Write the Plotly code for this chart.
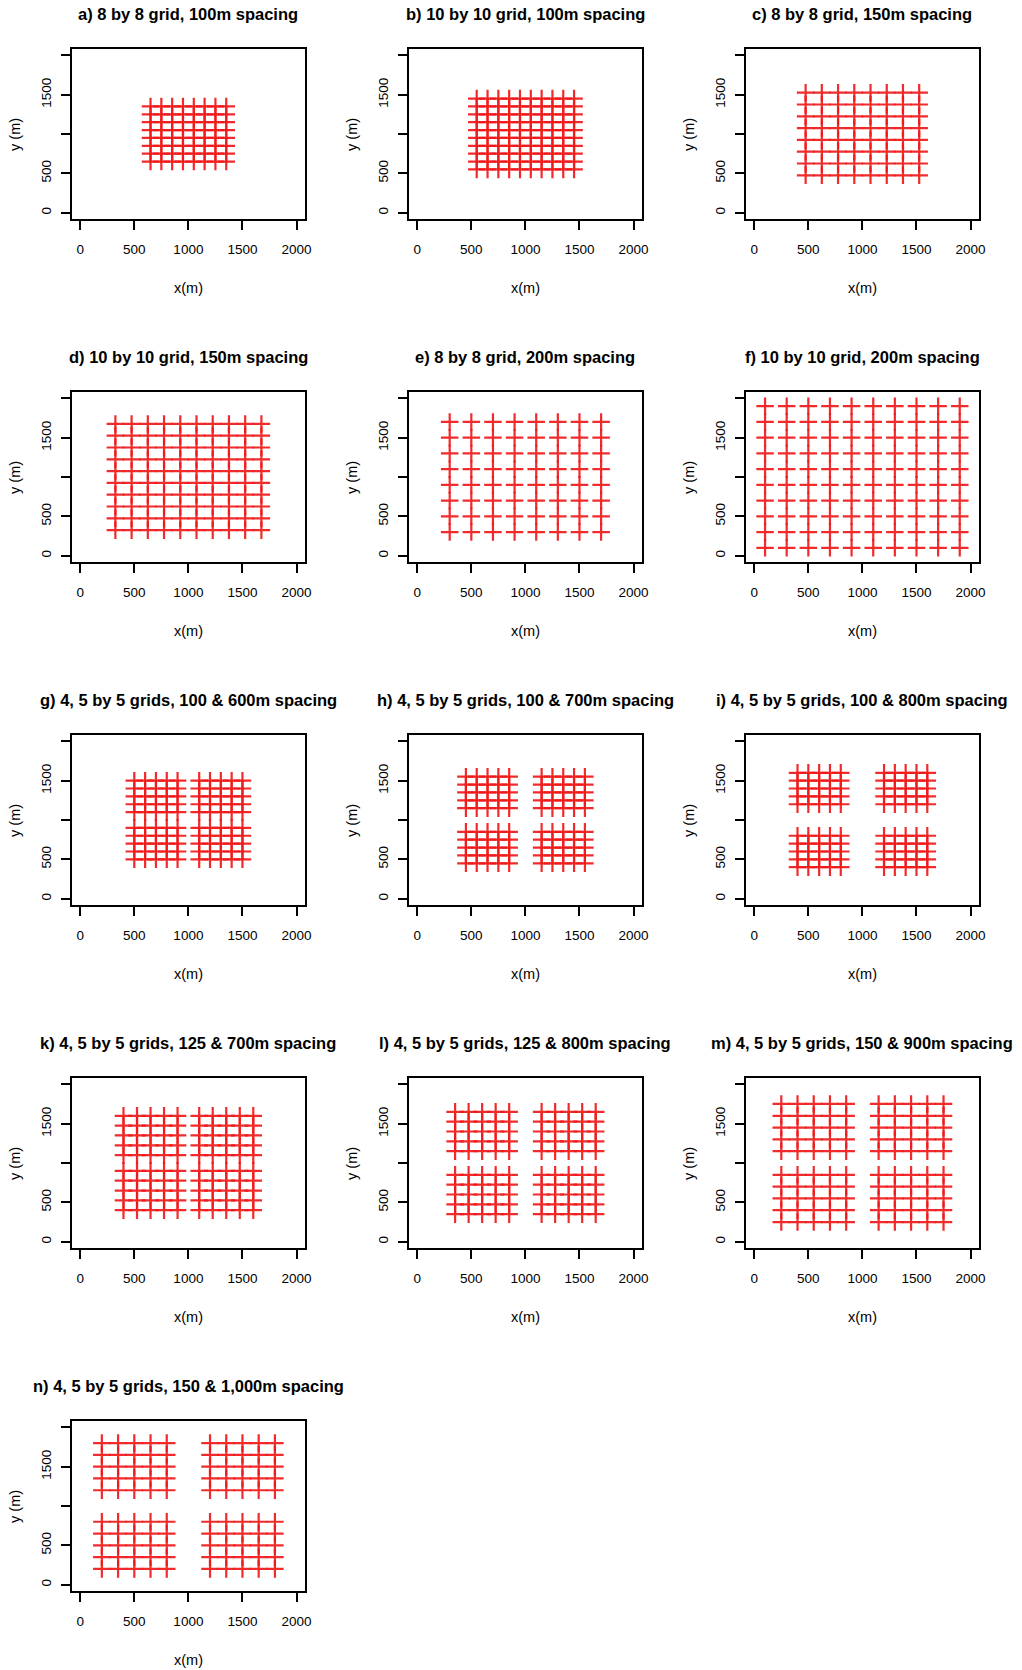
import plotly.graph_objects as go

# ---------------- data ----------------
PANEL_IDS = ["a", "b", "c", "d", "e", "f", "g", "h", "i", "k", "l", "m", "n"]

TITLES = [
    "a) 8 by 8 grid, 100m spacing",
    "b) 10 by 10 grid, 100m spacing",
    "c) 8 by 8 grid, 150m spacing",
    "d) 10 by 10 grid, 150m spacing",
    "e) 8 by 8 grid, 200m spacing",
    "f) 10 by 10 grid, 200m spacing",
    "g) 4, 5 by 5 grids, 100 & 600m spacing",
    "h) 4, 5 by 5 grids, 100 & 700m spacing",
    "i) 4, 5 by 5 grids, 100 & 800m spacing",
    "k) 4, 5 by 5 grids, 125 & 700m spacing",
    "l) 4, 5 by 5 grids, 125 & 800m spacing",
    "m) 4, 5 by 5 grids, 150 & 900m spacing",
    "n) 4, 5 by 5 grids, 150 & 1,000m spacing",
]

# grid line positions (m); each panel's points are all (x, y) combinations
A_POS = [650, 750, 850, 950, 1050, 1150, 1250, 1350]
B_POS = [550, 650, 750, 850, 950, 1050, 1150, 1250, 1350, 1450]
C_POS = [475, 625, 775, 925, 1075, 1225, 1375, 1525]
D_POS = [325, 475, 625, 775, 925, 1075, 1225, 1375, 1525, 1675]
E_POS = [300, 500, 700, 900, 1100, 1300, 1500, 1700]
F_POS = [100, 300, 500, 700, 900, 1100, 1300, 1500, 1700, 1900]
G_POS = [500, 600, 700, 800, 900, 1100, 1200, 1300, 1400, 1500]
H_POS = [450, 550, 650, 750, 850, 1150, 1250, 1350, 1450, 1550]
I_POS = [400, 500, 600, 700, 800, 1200, 1300, 1400, 1500, 1600]
K_POS = [400, 525, 650, 775, 900, 1100, 1225, 1350, 1475, 1600]
L_POS = [350, 475, 600, 725, 850, 1150, 1275, 1400, 1525, 1650]
M_POS = [250, 400, 550, 700, 850, 1150, 1300, 1450, 1600, 1750]
N_POS = [200, 350, 500, 650, 800, 1200, 1350, 1500, 1650, 1800]

PANEL_X = [A_POS, B_POS, C_POS, D_POS, E_POS, F_POS, G_POS, H_POS, I_POS, K_POS, L_POS, M_POS, N_POS]
PANEL_Y = [A_POS, B_POS, C_POS, D_POS, E_POS, F_POS, G_POS, H_POS, I_POS, K_POS, L_POS, M_POS, N_POS]

X_TICKS = [0, 500, 1000, 1500, 2000]
X_TICK_TEXT = ["0", "500", "1000", "1500", "2000"]
Y_TICKS = [0, 500, 1000, 1500, 2000]
Y_TICK_TEXT = ["0", "500", "", "1500", ""]

AXIS_RANGE = [-80, 2080]

# ---------------- layout geometry (px) ----------------
W, H = 1022, 1670
COL_LEFT = [72, 411, 750]
BOX_W = 235
ROW_TOP = [49, 392, 735, 1078, 1421]
BOX_H = 170

TICK_FONT = dict(family="Liberation Sans, Arial", size=13.5, color="black")
TITLE_FONT = dict(family="Liberation Sans, Arial", size=16.5, color="black")
LABEL_FONT = dict(family="Liberation Sans, Arial", size=14.5, color="black")

fig = go.Figure()
annotations = []
layout_axes = {}

for i, pid in enumerate(PANEL_IDS):
    r, c = divmod(i, 3)
    L = COL_LEFT[c]
    T = ROW_TOP[r]
    xd = [L / W, (L + BOX_W) / W]
    yd = [1 - (T + BOX_H) / H, 1 - T / H]
    n = i + 1
    xa = "x" if n == 1 else f"x{n}"
    ya = "y" if n == 1 else f"y{n}"

    xs, ys = [], []
    for yv in PANEL_Y[i]:
        for xv in PANEL_X[i]:
            xs.append(xv)
            ys.append(yv)

    fig.add_trace(go.Scatter(
        x=xs, y=ys, mode="markers", xaxis=xa, yaxis=ya, showlegend=False,
        marker=dict(symbol="cross-thin", size=12.5,
                    line=dict(color="rgba(240,25,25,0.92)", width=2.2)),
        hoverinfo="skip", cliponaxis=False,
    ))

    common = dict(
        range=AXIS_RANGE, showgrid=False, zeroline=False,
        showline=True, mirror=True, linecolor="black", linewidth=1.5,
        ticks="outside", ticklen=9, tickwidth=1.5, tickcolor="black",
        tickfont=TICK_FONT, fixedrange=True,
    )
    layout_axes["xaxis" if n == 1 else f"xaxis{n}"] = dict(
        common, domain=xd, anchor=ya, tickmode="array",
        tickvals=X_TICKS, ticktext=X_TICK_TEXT, ticklabelstandoff=8,
    )
    layout_axes["yaxis" if n == 1 else f"yaxis{n}"] = dict(
        common, domain=yd, anchor=xa, tickmode="array",
        tickvals=Y_TICKS, ticktext=Y_TICK_TEXT, tickangle=-90,
        ticklabelstandoff=4,
    )

    cx = (L + BOX_W / 2) / W
    annotations.append(dict(
        text=f"<b>{TITLES[i]}</b>", x=cx, y=1 - (T - 35) / H,
        xref="paper", yref="paper", showarrow=False,
        xanchor="center", yanchor="middle", font=TITLE_FONT,
    ))
    annotations.append(dict(
        text="x(m)", x=cx, y=1 - (T + BOX_H + 69) / H,
        xref="paper", yref="paper", showarrow=False,
        xanchor="center", yanchor="middle", font=LABEL_FONT,
    ))
    annotations.append(dict(
        text="y (m)", x=(L - 57) / W, y=1 - (T + BOX_H / 2) / H,
        xref="paper", yref="paper", showarrow=False, textangle=-90,
        xanchor="center", yanchor="middle", font=LABEL_FONT,
    ))

fig.update_layout(
    width=W, height=H,
    margin=dict(l=0, r=0, t=0, b=0),
    paper_bgcolor="white", plot_bgcolor="white",
    annotations=annotations,
    **layout_axes,
)

fig.write_html("out.html")
